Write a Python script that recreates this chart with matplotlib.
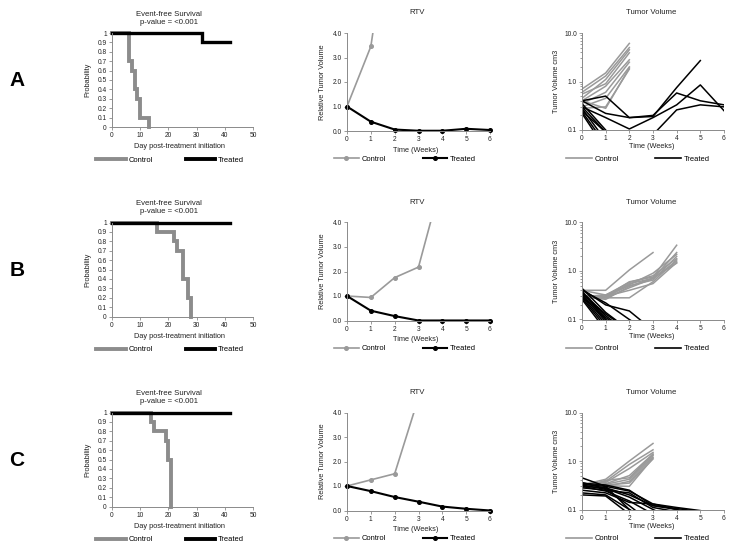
import matplotlib
matplotlib.use("Agg")
import matplotlib.pyplot as plt
import numpy as np
from matplotlib.lines import Line2D

plt.rcParams['font.family'] = ['Liberation Sans', 'DejaVu Sans']

nan = np.nan

# ---- event-free survival (Kaplan-Meier steps) ----
km_time_ctrl_A = [0, 6, 7, 8, 9, 10, 13]
km_prob_ctrl_A = [1, 0.7, 0.6, 0.4, 0.3, 0.1, 0]
km_time_trt_A = [0, 32, 42]
km_prob_trt_A = [1, 0.9, 0.9]

km_time_ctrl_B = [0, 16, 22, 23, 25, 27, 28]
km_prob_ctrl_B = [1, 0.9, 0.8, 0.7, 0.4, 0.2, 0]
km_time_trt_B = [0, 42]
km_prob_trt_B = [1, 1]

km_time_ctrl_C = [0, 14, 15, 19, 20, 21]
km_prob_ctrl_C = [1, 0.9, 0.8, 0.7, 0.5, 0]
km_time_trt_C = [0, 42]
km_prob_trt_C = [1, 1]

# ---- relative tumor volume (means) ----
weeks = [0, 1, 2, 3, 4, 5, 6]
rtv_ctrl_A = [1.0, 3.45, 10.0]
rtv_trt_A = [1.0, 0.38, 0.06, 0.01, 0.01, 0.09, 0.04]
rtv_ctrl_B = [1.0, 0.94, 1.75, 2.18, 5.8]
rtv_trt_B = [1.0, 0.40, 0.18, 0.0, 0.0, 0.0, 0.0]
rtv_ctrl_C = [1.0, 1.25, 1.5, 4.6]
rtv_trt_C = [1.0, 0.79, 0.55, 0.36, 0.16, 0.07, 0.0]

# ---- individual tumor volumes (cm3) ----
tv_ctrl_A = [
    [0.70, 1.50, 6.1],
    [0.60, 1.30, 5.0],
    [0.45, 1.10, 4.5],
    [0.55, 0.90, 3.9],
    [0.40, 0.80, 2.8],
    [0.35, 0.60, 2.5],
    [0.30, 0.45, 2.0],
    [0.28, 0.30, 1.8],
    [0.40, 0.28, 1.9],
]
tv_trt_A = [
    [0.40, 0.50, 0.18, 0.20, 0.58, 0.40, 0.33],
    [0.40, 0.22, 0.18, 0.19, 0.75, 2.7, nan],
    [0.30, 0.18, 0.105, 0.18, 0.33, 0.85, 0.25],
    [0.25, 0.09, 0.05, 0.08, 0.26, 0.33, 0.30],
    [0.35, 0.10, nan, nan, nan, nan, nan],
    [0.30, 0.09, nan, nan, nan, nan, nan],
    [0.28, 0.06, nan, nan, nan, nan, nan],
    [0.24, 0.05, nan, nan, nan, nan, nan],
    [0.22, 0.04, nan, nan, nan, nan, nan],
]
tv_ctrl_B = [
    [0.40, 0.40, 1.05, 2.4, nan],
    [0.30, 0.30, 0.60, 0.75, 3.4],
    [0.30, 0.28, 0.55, 0.70, 2.4],
    [0.28, 0.30, 0.50, 0.65, 2.0],
    [0.30, 0.32, 0.58, 0.80, 1.8],
    [0.28, 0.28, 0.45, 0.70, 1.6],
    [0.30, 0.30, 0.40, 0.55, 1.5],
    [0.28, 0.28, 0.28, 0.60, 1.7],
    [0.40, 0.32, 0.52, 0.90, 2.2],
    [0.30, 0.26, 0.48, 0.72, 1.45],
]
tv_trt_B = [
    [0.42, 0.20, 0.15, 0.06],
    [0.40, 0.22, 0.10, 0.05],
    [0.38, 0.12, 0.05],
    [0.36, 0.11, 0.05],
    [0.34, 0.13, 0.06],
    [0.33, 0.09],
    [0.31, 0.10, 0.05],
    [0.30, 0.08],
    [0.28, 0.07],
    [0.26, 0.06],
    [0.44, 0.14, 0.06],
    [0.37, 0.10],
]
tv_ctrl_C = [
    [0.32, 0.42, 1.00, 2.3],
    [0.30, 0.38, 0.85, 1.7],
    [0.33, 0.36, 0.70, 1.5],
    [0.30, 0.34, 0.50, 1.4],
    [0.28, 0.40, 0.45, 1.35],
    [0.32, 0.33, 0.42, 1.3],
    [0.30, 0.30, 0.38, 1.2],
    [0.34, 0.32, 0.35, 1.1],
    [0.30, 0.31, 0.30, 1.15],
]
tv_trt_C = [
    [0.45, 0.30, 0.10, 0.05],
    [0.35, 0.32, 0.25, 0.12, 0.105, 0.09],
    [0.33, 0.30, 0.24, 0.13, 0.11, 0.095],
    [0.30, 0.28, 0.20, 0.12, 0.10, 0.08],
    [0.28, 0.25, 0.22, 0.11, 0.09],
    [0.25, 0.22, 0.14, 0.13, 0.10],
    [0.22, 0.20, 0.10, 0.05],
    [0.20, 0.19, 0.08],
    [0.32, 0.26, 0.12, 0.05],
    [0.30, 0.24, 0.15, 0.08],
    [0.36, 0.27, 0.18, 0.10, 0.06],
]

row_letters = ['A', 'B', 'C']
km_data = [
    (km_time_ctrl_A, km_prob_ctrl_A, km_time_trt_A, km_prob_trt_A),
    (km_time_ctrl_B, km_prob_ctrl_B, km_time_trt_B, km_prob_trt_B),
    (km_time_ctrl_C, km_prob_ctrl_C, km_time_trt_C, km_prob_trt_C),
]
rtv_data = [(rtv_ctrl_A, rtv_trt_A), (rtv_ctrl_B, rtv_trt_B), (rtv_ctrl_C, rtv_trt_C)]
tv_data = [(tv_ctrl_A, tv_trt_A), (tv_ctrl_B, tv_trt_B), (tv_ctrl_C, tv_trt_C)]

W, H = 736, 551
fig = plt.figure(figsize=(W / 100, H / 100), dpi=100)

GRAY = '#8c8c8c'
LGRAY = '#9a9a9a'
SPINE = '#8a8a8a'
TXT = '#222222'
TICK_FS = 4.8
LAB_FS = 5.3
TITLE_FS = 5.6
LEG_FS = 5.4


def px_axes(x0, y0, x1, y1):
    return fig.add_axes([x0 / W, 1 - y1 / H, (x1 - x0) / W, (y1 - y0) / H])


def style(ax):
    for s in ['top', 'right']:
        ax.spines[s].set_visible(False)
    for s in ['left', 'bottom']:
        ax.spines[s].set_color(SPINE)
        ax.spines[s].set_linewidth(0.7)
    ax.tick_params(which='both', direction='out', color=SPINE, width=0.6,
                   labelsize=TICK_FS, labelcolor=TXT, pad=1.5)
    ax.tick_params(which='major', length=2.2)
    ax.tick_params(which='minor', length=1.3)


def legend(ax, handles, cx, cy, hl, cs):
    ax.legend(handles, ['Control', 'Treated'], loc='center', ncol=2,
              bbox_to_anchor=(cx / W, 1 - cy / H), bbox_transform=fig.transFigure,
              frameon=False, fontsize=LEG_FS, handlelength=hl, handletextpad=0.35,
              columnspacing=cs, borderpad=0, borderaxespad=0)


for r in range(3):
    dy = [0, 189.5, 379.5][r]

    # row letter
    fig.text(17 / W, 1 - (81 + dy) / H, row_letters[r], fontsize=15, fontweight='bold',
             ha='center', va='center')

    # --- Event-free survival ---
    tc, pc, tt, pt = km_data[r]
    ax = px_axes(112, 33 + dy, 253, 127 + dy)
    style(ax)
    ax.step(tc, pc, where='post', color=GRAY, lw=2.8, clip_on=False,
            solid_joinstyle='miter')
    ax.step(tt, pt, where='post', color='black', lw=2.4, clip_on=False,
            solid_joinstyle='miter')
    ax.set_xlim(0, 50)
    ax.set_ylim(0, 1)
    ax.set_xticks(range(0, 51, 10))
    yt = np.round(np.arange(0, 1.01, 0.1), 1)
    ax.set_yticks(yt)
    ax.set_yticklabels(['0' if v == 0 else ('1' if v == 1 else f'{v:.1f}') for v in yt])
    ax.set_xlabel('Day post-treatment initiation', fontsize=LAB_FS, color=TXT, va='center')
    ax.xaxis.set_label_coords(0.48, -20 / 94)
    ax.set_ylabel('Probability', fontsize=LAB_FS, color=TXT, va='center')
    ax.yaxis.set_label_coords(-24 / 141, 0.5)
    fig.text(169 / W, 1 - (18 + dy) / H, 'Event-free Survival\np-value = <0.001',
             fontsize=TITLE_FS, ha='center', va='center', color=TXT, linespacing=1.2)
    h = [Line2D([], [], color=GRAY, lw=2.8), Line2D([], [], color='black', lw=2.8)]
    legend(ax, h, 170, 160 + dy, 3.9, 4.4)

    # --- RTV ---
    rc, rt = rtv_data[r]
    ax = px_axes(347, 33 + dy, 490, 131 + dy)
    style(ax)
    ax.plot(weeks[:len(rc)], rc, color=LGRAY, lw=1.2, marker='o', ms=2.6)
    ax.plot(weeks[:len(rt)], rt, color='black', lw=1.5, marker='o', ms=2.6, clip_on=False)
    ax.set_xlim(0, 6)
    ax.set_ylim(0, 4)
    ax.set_xticks(weeks)
    ax.set_yticks([0, 1, 2, 3, 4])
    ax.set_yticklabels(['0.0', '1.0', '2.0', '3.0', '4.0'])
    ax.set_xlabel('Time (Weeks)', fontsize=LAB_FS, color=TXT, va='center')
    ax.xaxis.set_label_coords(0.48, -19 / 98)
    ax.set_ylabel('Relative Tumor Volume', fontsize=LAB_FS, color=TXT, va='center')
    ax.yaxis.set_label_coords(-25 / 143, 0.5)
    fig.text(417 / W, 1 - (13 + dy) / H, 'RTV', fontsize=TITLE_FS, ha='center',
             va='center', color=TXT)
    h = [Line2D([], [], color=LGRAY, lw=1.2, marker='o', ms=2.6),
         Line2D([], [], color='black', lw=1.5, marker='o', ms=2.6)]
    legend(ax, h, 405, 159 + dy, 3.3, 4.9)

    # --- Tumor volume ---
    vc, vt = tv_data[r]
    ax = px_axes(582, 33 + dy, 724, 130 + dy)
    style(ax)
    for line in vc:
        ax.plot(weeks[:len(line)], line, color=LGRAY, lw=1.1)
    for line in vt:
        ax.plot(weeks[:len(line)], line, color='black', lw=1.1)
    ax.set_yscale('log')
    ax.set_xlim(0, 6)
    ax.set_ylim(0.1, 10)
    ax.set_xticks(weeks)
    ax.set_yticks([0.1, 1, 10])
    ax.set_yticklabels(['0.1', '1.0', '10.0'])
    ax.set_xlabel('Time (Weeks)', fontsize=LAB_FS, color=TXT, va='center')
    ax.xaxis.set_label_coords(0.49, -17 / 97)
    ax.set_ylabel('Tumor Volume cm3', fontsize=LAB_FS, color=TXT, va='center')
    ax.yaxis.set_label_coords(-26 / 142, 0.5)
    fig.text(651 / W, 1 - (13 + dy) / H, 'Tumor Volume', fontsize=TITLE_FS, ha='center',
             va='center', color=TXT)
    h = [Line2D([], [], color=LGRAY, lw=1.2), Line2D([], [], color='black', lw=1.2)]
    legend(ax, h, 638, 159 + dy, 3.5, 4.8)

fig.savefig('out.png', dpi=100)
